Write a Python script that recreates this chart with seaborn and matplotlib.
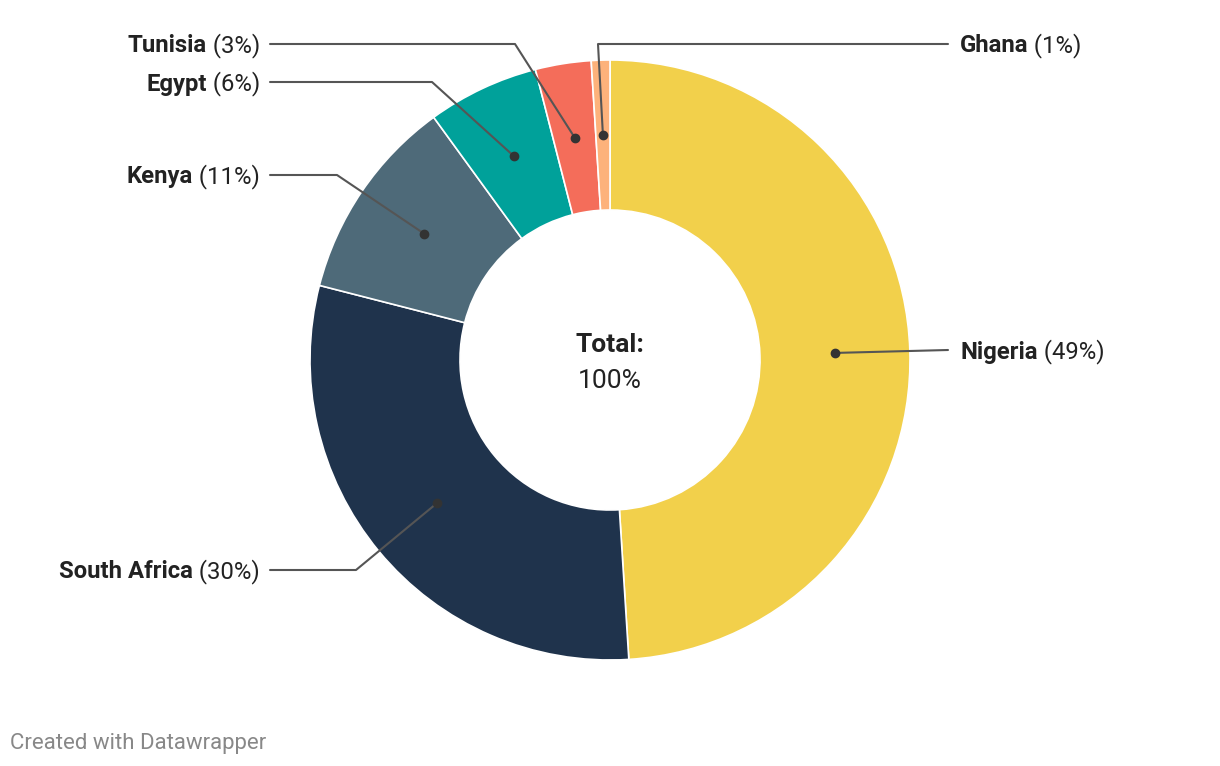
import numpy as np
import matplotlib
matplotlib.use("Agg")
import matplotlib.pyplot as plt
import seaborn as sns

# ---- data ----
countries = ["Nigeria", "South Africa", "Kenya", "Egypt", "Tunisia", "Ghana"]
shares = [49, 30, 11, 6, 3, 1]
colors = ["#F2D04B", "#1F334C", "#4E6A79", "#00A19A", "#F46D5A", "#FDB27B"]
total_label = "Total:"
total_value = "100%"
footer = "Created with Datawrapper"

sns.set_theme(style="white")
plt.rcParams["font.family"] = ["Roboto", "DejaVu Sans"]

W, H = 1220, 766
fig = plt.figure(figsize=(W / 100, H / 100), dpi=100)
ax = fig.add_axes([0, 0, 1, 1])

def Y(py):
    return H - py

cx, cy = 610, 360
R_out, R_in = 300, 150
ax.pie(shares, colors=colors, startangle=90, counterclock=False,
       radius=R_out, center=(cx, Y(cy)),
       wedgeprops=dict(width=R_out - R_in, edgecolor="white", linewidth=1.2))
ax.set_xlim(0, W)
ax.set_ylim(0, H)
ax.set_aspect("auto")
ax.axis("off")

# leader layout: (side, label y, elbow x) in pixel coords
layout = {
    "Nigeria": ("right", 350, None),
    "South Africa": ("left", 570, 356),
    "Kenya": ("left", 175, 337),
    "Egypt": ("left", 82, 432),
    "Tunisia": ("left", 44, 515),
    "Ghana": ("right", 44, 598),
}

fig.canvas.draw()
renderer = fig.canvas.get_renderer()
FS = 17.2
TY = 2  # text vertical nudge
line_col = "#555555"
cum = np.cumsum([0] + shares[:-1])
tot = sum(shares)
r_mid = (R_out + R_in) / 2
for name, v, c0 in zip(countries, shares, cum):
    ang = np.deg2rad((c0 + v / 2) / tot * 360)
    dx = cx + r_mid * np.sin(ang)
    dy = cy - r_mid * np.cos(ang)
    side, ly, ex = layout[name]
    pct = f" ({v}%)"
    if side == "left":
        pts_x = [270, ex, dx]
        pts_y = [ly, ly, dy]
        ax.plot(pts_x, [Y(p) for p in pts_y], color=line_col, lw=1.5, zorder=3)
        t2 = ax.text(260, Y(ly + TY), pct, ha="right", va="center", fontsize=FS,
                     color="#222222")
        bb = t2.get_window_extent(renderer)
        ax.text(bb.x0, Y(ly + TY), name, ha="right", va="center", fontsize=FS,
                fontweight="bold", color="#222222")
    else:
        if ex is None:
            pts_x = [dx, 948]
            pts_y = [dy, ly]
        else:
            pts_x = [dx, ex, 948]
            pts_y = [dy, ly, ly]
        ax.plot(pts_x, [Y(p) for p in pts_y], color=line_col, lw=1.5, zorder=3)
        t1 = ax.text(960, Y(ly + TY), name, ha="left", va="center", fontsize=FS,
                     fontweight="bold", color="#222222")
        bb = t1.get_window_extent(renderer)
        ax.text(bb.x1, Y(ly + TY), pct, ha="left", va="center", fontsize=FS,
                color="#222222")
    ax.plot([dx], [Y(dy)], "o", color="#333333", markersize=6, zorder=4)

ax.text(cx, Y(345), total_label, ha="center", va="center", fontsize=19,
        fontweight="bold", color="#222222")
ax.text(cx, Y(381), total_value, ha="center", va="center", fontsize=19,
        color="#222222")
ax.text(10, Y(744), footer, ha="left", va="center", fontsize=16,
        color="#888888")

fig.savefig("out.png", dpi=100, facecolor="white")
